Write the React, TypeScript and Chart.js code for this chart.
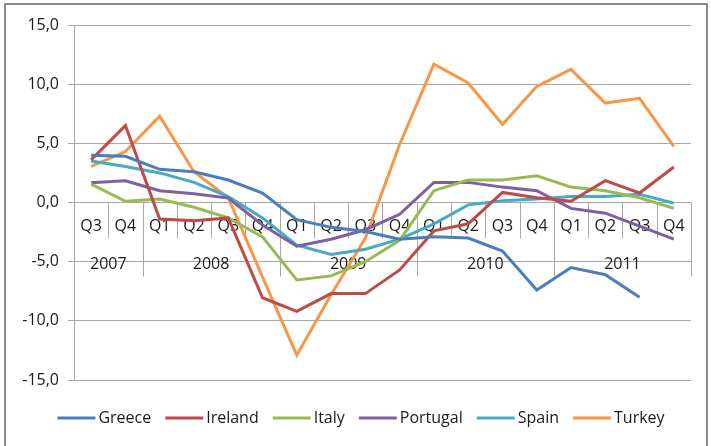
import React, { useEffect, useRef } from "react";
import { Chart, registerables } from "chart.js";

Chart.register(...registerables);

const quarters = ["Q3", "Q4", "Q1", "Q2", "Q3", "Q4", "Q1", "Q2", "Q3", "Q4", "Q1", "Q2", "Q3", "Q4", "Q1", "Q2", "Q3", "Q4"];
const years = ["2007", "2008", "2009", "2010", "2011"];
const yearQuarterCounts = [2, 4, 4, 4, 4];

const greece = [4.0, 3.9, 2.8, 2.6, 1.9, 0.8, -1.45, -2.1, -2.45, -3.1, -2.9, -3.0, -4.1, -7.4, -5.5, -6.1, -8.0, null];
const ireland = [3.6, 6.5, -1.4, -1.55, -1.3, -8.05, -9.2, -7.7, -7.7, -5.7, -2.4, -1.8, 0.85, 0.4, 0.1, 1.85, 0.8, 3.0];
const italy = [1.55, 0.1, 0.3, -0.4, -1.3, -2.9, -6.55, -6.2, -5.0, -3.2, 1.0, 1.9, 1.9, 2.25, 1.3, 1.0, 0.4, -0.5];
const portugal = [1.67, 1.84, 1.0, 0.74, 0.37, -1.9, -3.7, -3.1, -2.3, -1.0, 1.7, 1.7, 1.3, 1.0, -0.5, -0.9, -2.0, -3.1];
const spain = [3.5, 3.05, 2.5, 1.7, 0.5, -1.3, -3.6, -4.4, -3.95, -3.1, -1.8, -0.2, 0.15, 0.3, 0.5, 0.5, 0.7, -0.05];
const turkey = [3.05, 4.3, 7.3, 2.6, 0.4, -6.3, -12.9, -7.8, -3.0, 4.9, 11.7, 10.1, 6.6, 9.8, 11.25, 8.4, 8.8, 4.75];

const seriesNames = ["Greece", "Ireland", "Italy", "Portugal", "Spain", "Turkey"];
const seriesValues = [greece, ireland, italy, portugal, spain, turkey];
const seriesColors = ["#4a7ebb", "#be4b48", "#98b954", "#7d60a0", "#46aac5", "#f79646"];

const yMin = -15;
const yMax = 15;
const yStep = 5;

const FONT = "'Open Sans', sans-serif";
const GRID = "#a8a8a8";
const TEXT = "#1a1a1a";

const frameAndAxisPlugin = {
  id: "frameAndAxis",
  beforeDatasetsDraw(chart: any) {
    const ctx = chart.ctx;
    const xs = chart.scales.x;
    const ys = chart.scales.y;
    const y0 = ys.getPixelForValue(0);
    const step = xs.getPixelForValue(1) - xs.getPixelForValue(0);
    const left = chart.chartArea.left;
    ctx.save();
    ctx.strokeStyle = GRID;
    ctx.lineWidth = 1;
    // quarter separators
    const yearBounds = new Set<number>();
    let acc = 0;
    yearBounds.add(0);
    yearQuarterCounts.forEach((c) => {
      acc += c;
      yearBounds.add(acc);
    });
    for (let i = 0; i <= quarters.length; i++) {
      const bx = Math.round(left + i * step) + 0.5;
      const len = yearBounds.has(i) ? 74 : 36;
      ctx.beginPath();
      ctx.moveTo(bx, y0);
      ctx.lineTo(bx, y0 + len);
      ctx.stroke();
    }
    ctx.fillStyle = TEXT;
    ctx.font = `16px ${FONT}`;
    ctx.textAlign = "center";
    ctx.textBaseline = "middle";
    quarters.forEach((q, i) => {
      ctx.fillText(q, xs.getPixelForValue(i), y0 + 24);
    });
    let start = 0;
    years.forEach((yr, j) => {
      const c = yearQuarterCounts[j];
      const cx = left + (start + c / 2) * step;
      ctx.fillText(yr, cx, y0 + 62);
      start += c;
    });
    ctx.restore();
  },
  afterDraw(chart: any) {
    const ctx = chart.ctx;
    ctx.save();
    // outer frame
    ctx.strokeStyle = "#8a8a8a";
    ctx.lineWidth = 2;
    ctx.strokeRect(5, 4, 702, 446);
    // legend
    ctx.font = `16px ${FONT}`;
    ctx.textBaseline = "middle";
    ctx.textAlign = "left";
    const lineLen = 38;
    const gap = 3;
    const spacing = 14;
    const widths = seriesNames.map((n) => ctx.measureText(n).width);
    const total = widths.reduce((a, w) => a + w + lineLen + gap, 0) + spacing * (seriesNames.length - 1);
    let x = 361 - total / 2;
    const ly = 418;
    seriesNames.forEach((n, i) => {
      ctx.strokeStyle = seriesColors[i];
      ctx.lineWidth = 3;
      ctx.beginPath();
      ctx.moveTo(x, ly);
      ctx.lineTo(x + lineLen, ly);
      ctx.stroke();
      ctx.fillStyle = TEXT;
      ctx.fillText(n, x + lineLen + gap, ly);
      x += lineLen + gap + widths[i] + spacing;
    });
    ctx.restore();
  },
};

export default function App() {
  const canvasRef = useRef<HTMLCanvasElement | null>(null);

  useEffect(() => {
    if (!canvasRef.current) return;
    const chart = new Chart(canvasRef.current, {
      type: "line",
      data: {
        labels: quarters,
        datasets: seriesNames.map((name, i) => ({
          label: name,
          data: seriesValues[i],
          borderColor: seriesColors[i],
          backgroundColor: seriesColors[i],
          borderWidth: 3,
          pointRadius: 0,
          tension: 0,
          fill: false,
        })),
      },
      options: {
        animation: false,
        responsive: true,
        maintainAspectRatio: false,
        layout: { padding: { left: 0, top: 25, right: 20, bottom: 66 } },
        plugins: {
          legend: { display: false },
          tooltip: { enabled: false },
        },
        scales: {
          x: {
            type: "category",
            offset: true,
            display: false,
          },
          y: {
            min: yMin,
            max: yMax,
            afterFit: (scale: any) => {
              scale.width = 74;
            },
            ticks: {
              stepSize: yStep,
              padding: 9,
              color: TEXT,
              font: { family: FONT, size: 16 },
              callback: (v: any) => Number(v).toFixed(1).replace(".", ","),
            },
            grid: {
              color: GRID,
              lineWidth: 1,
              tickLength: 6,
              drawTicks: true,
            },
            border: { display: true, color: GRID },
          },
        },
      },
      plugins: [frameAndAxisPlugin],
    });
    return () => chart.destroy();
  }, []);

  return (
    <div style={{ position: "fixed", left: 0, top: 0, width: 711, height: 446, background: "#fff" }}>
      <canvas ref={canvasRef} />
    </div>
  );
}
